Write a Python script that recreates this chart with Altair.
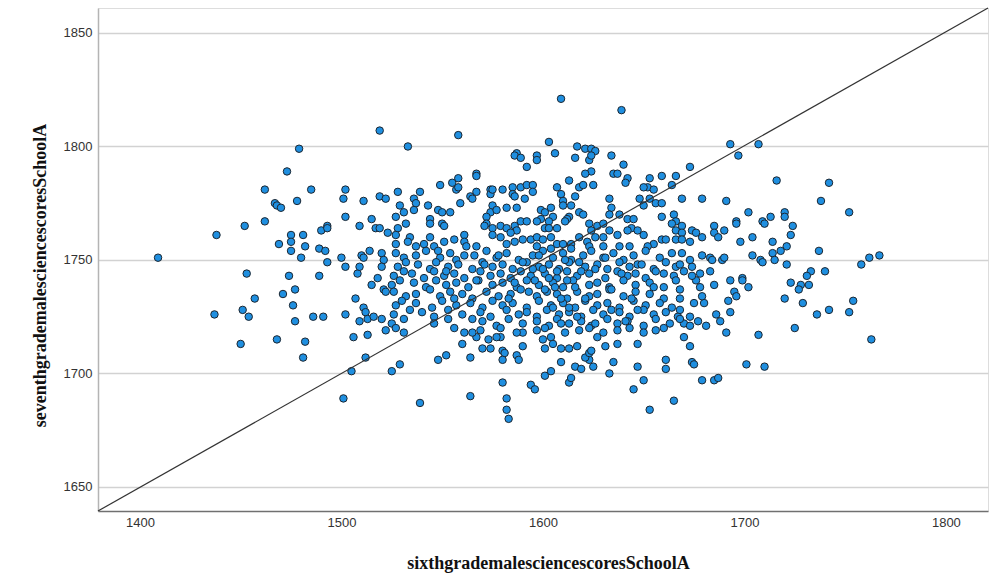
import altair as alt
import pandas as pd

# ---- data (sixth grade score, seventh grade score) ----
left_top = [[1438,1761],[1452,1765],[1462,1767],[1462,1781],[1467,1775],[1468,1774],[1470,1773],[1473,1789],
            [1479,1799],[1478,1776],[1485,1781],[1475,1761],[1475,1758],[1481,1761],[1482,1756],[1469,1757],
            [1490,1763],[1493,1765],[1493,1764],[1489,1755],[1501,1777],[1502,1781],[1502,1769],[1509,1765],
            [1511,1776],[1515,1768],[1517,1764],[1519,1764],[1519,1807],[1519,1778],[1522,1777],[1523,1762]]

left_bottom = [[1409,1751],[1437,1726],[1450,1713],[1453,1744],[1451,1728],[1454,1725],[1457,1733],[1468,1715],
               [1471,1735],[1474,1743],[1476,1730],[1477,1737],[1477,1723],[1481,1707],[1482,1714],[1486,1725],
               [1489,1743],[1491,1725],[1501,1689],[1502,1726],[1505,1701],[1506,1716],[1507,1733],[1512,1707],
               [1513,1717],[1509,1723],[1511,1729],[1512,1727],[1513,1724],[1516,1725],[1520,1724],[1522,1719],
               [1518,1742],[1515,1739],[1521,1737],[1522,1736],[1475,1754],[1480,1751],[1492,1754],[1493,1749],
               [1500,1751],[1502,1747],[1510,1752],[1511,1751],[1508,1744],[1509,1747],[1520,1753],[1521,1750],
               [1520,1747],[1514,1754]]

center_top = [[1609,1821],[1639,1816],[1558,1805],[1533,1800],[1603,1802],[1606,1797],[1587,1797],[1586,1796],
              [1589,1795],[1597,1796],[1597,1794],[1592,1791],[1617,1800],[1616,1795],[1621,1799],[1624,1799],
              [1626,1798],[1623,1794],[1624,1796],[1634,1796],[1640,1792],[1624,1789],[1621,1788],[1635,1788],
              [1637,1788],[1642,1786],[1641,1784],[1653,1786],[1659,1787],[1666,1787],[1567,1788],[1567,1787],
              [1558,1786],[1555,1784],[1557,1781],[1558,1782],[1549,1783],[1528,1780],[1539,1780],[1536,1777],
              [1537,1775],[1536,1772],[1529,1774],[1531,1771],[1527,1769],[1528,1764],[1532,1766],[1527,1761],
              [1527,1757],[1534,1760],[1533,1758],[1541,1757],[1543,1774],[1548,1772],[1550,1771],[1554,1771],
              [1544,1768],[1544,1766],[1550,1766],[1551,1765],[1544,1760],[1551,1758],[1556,1759],[1561,1761],
              [1561,1758],[1559,1775],[1564,1778],[1565,1777],[1567,1780],[1574,1781],[1574,1779],[1575,1781],
              [1580,1781],[1585,1782],[1585,1779],[1586,1778],[1589,1782],[1592,1783],[1595,1783],[1591,1777],
              [1595,1780],[1575,1774],[1574,1771],[1572,1769],[1572,1766],[1577,1772],[1582,1773],[1587,1773],
              [1571,1765],[1575,1764],[1599,1772],[1601,1771],[1604,1773],[1605,1769],[1599,1768],[1597,1767],
              [1603,1767],[1601,1764],[1603,1764],[1607,1764],[1607,1782],[1609,1779],[1610,1776],[1613,1785],
              [1616,1778],[1618,1782],[1620,1783],[1625,1783],[1614,1774],[1610,1774],[1613,1769],[1612,1768],
              [1611,1767],[1618,1771],[1620,1770],[1623,1766],[1627,1765],[1624,1763],[1630,1766],[1633,1777],
              [1634,1773],[1633,1770],[1638,1770],[1642,1768],[1645,1768],[1644,1764],[1650,1774],[1653,1777],
              [1656,1775],[1659,1775],[1659,1769],[1665,1770],[1666,1767],[1648,1777],[1652,1782],[1655,1781],
              [1650,1782],[1664,1783],[1579,1765],[1582,1764],[1586,1765],[1589,1767],[1592,1767],[1587,1763],
              [1584,1762],[1579,1760],[1575,1761],[1582,1757],[1586,1758],[1590,1759],[1594,1759],[1597,1760],
              [1600,1759],[1604,1760],[1607,1757],[1610,1757],[1614,1757],[1618,1760],[1622,1758],[1626,1760],
              [1630,1760],[1633,1763],[1637,1761],[1642,1763],[1647,1763],[1650,1761],[1655,1757],[1659,1759],
              [1661,1759],[1666,1759],[1666,1763],[1664,1766],[1623,1756],[1630,1756],[1638,1756],[1643,1756],
              [1652,1756],[1546,1756],[1537,1756],[1562,1756],[1567,1756],[1597,1756]]

center_dense = [
    [1527,1753],[1531,1751],[1537,1752],[1542,1754],[1549,1751],[1554,1753],[1557,1750],[1566,1752],[1572,1754],
    [1577,1751],[1582,1753],[1588,1750],[1595,1752],[1600,1754],[1605,1751],[1610,1753],[1614,1750],[1620,1752],
    [1624,1754],[1630,1751],[1635,1753],[1640,1750],[1645,1752],[1651,1754],[1658,1751],[1664,1753],
    [1528,1747],[1532,1749],[1538,1748],[1544,1746],[1547,1749],[1553,1747],[1558,1748],[1565,1746],[1570,1749],
    [1575,1747],[1580,1748],[1585,1746],[1592,1749],[1598,1747],[1603,1748],[1608,1746],[1613,1749],[1621,1747],
    [1627,1748],[1632,1746],[1638,1749],[1643,1747],[1647,1748],[1655,1746],[1661,1749],[1666,1747],
    [1526,1743],[1531,1745],[1535,1744],[1541,1742],[1546,1745],[1551,1743],[1556,1744],[1561,1742],[1569,1745],
    [1574,1743],[1579,1744],[1584,1742],[1589,1745],[1594,1743],[1601,1744],[1607,1742],[1612,1745],[1617,1743],
    [1623,1744],[1631,1742],[1637,1745],[1642,1743],[1646,1744],[1651,1742],[1656,1745],[1665,1743],
    [1525,1739],[1529,1741],[1536,1740],[1542,1738],[1547,1741],[1552,1739],[1557,1740],[1563,1738],[1568,1741],
    [1575,1739],[1580,1740],[1587,1738],[1592,1741],[1598,1739],[1605,1740],[1610,1738],[1615,1741],[1623,1739],
    [1627,1740],[1633,1738],[1640,1741],[1646,1739],[1653,1740],[1660,1738],[1666,1741],
    [1526,1736],[1532,1734],[1537,1735],[1544,1737],[1549,1734],[1554,1736],[1560,1735],[1565,1733],[1572,1736],
    [1578,1734],[1584,1735],[1589,1737],[1597,1734],[1602,1736],[1607,1735],[1612,1733],[1617,1736],[1623,1734],
    [1627,1735],[1633,1737],[1640,1734],[1646,1736],[1653,1735],[1660,1733],
    [1527,1730],[1530,1732],[1537,1731],[1545,1729],[1550,1732],[1557,1730],[1564,1731],[1570,1729],[1575,1732],
    [1580,1730],[1585,1731],[1592,1729],[1598,1732],[1604,1730],[1610,1731],[1616,1729],[1621,1732],[1627,1730],
    [1632,1731],[1638,1729],[1645,1732],[1651,1730],[1658,1731],[1664,1729],
    [1526,1726],[1534,1728],[1540,1727],[1546,1725],[1553,1728],[1560,1726],[1569,1727],[1574,1725],[1582,1728],
    [1588,1726],[1592,1727],[1597,1725],[1602,1728],[1608,1726],[1613,1727],[1619,1725],[1625,1728],[1630,1726],
    [1638,1727],[1643,1725],[1650,1728],[1655,1726],[1661,1727],[1667,1725],
    [1525,1722],[1531,1724],[1570,1723],[1577,1721],[1583,1724],[1590,1722],[1597,1723],[1603,1721],[1607,1724],
    [1613,1722],[1619,1723],[1624,1721],[1632,1724],[1637,1722],[1642,1723],[1650,1721],[1656,1724],[1663,1722],
    [1569,1719],[1579,1720],[1590,1718],[1601,1720],[1611,1718],[1618,1719],[1623,1720],[1630,1718],[1637,1719],
    [1643,1720],[1650,1718],[1656,1719],[1660,1720]]

center_extra = [[1600,1746],[1603,1742],[1606,1738],[1609,1733],[1613,1729],[1616,1738],[1619,1745],[1611,1750],
                [1604,1755],[1598,1752],[1614,1755],[1621,1733],[1605,1729],[1596,1741],[1593,1736],[1617,1725],
                [1609,1722],[1612,1741],[1618,1749],[1607,1745],[1601,1737],[1595,1746],[1590,1749],[1586,1740],
                [1583,1733],[1578,1752],[1571,1748],[1567,1741],[1561,1752],[1556,1733],[1552,1745],[1548,1754],
                [1626,1746],[1631,1751],[1634,1737],[1639,1744],[1644,1733],[1649,1748],[1655,1738],[1660,1744],
                [1626,1722],[1634,1728],[1641,1723],[1647,1728]]

center_low = [[1539,1687],[1564,1690],[1582,1689],[1582,1684],[1583,1680],[1580,1696],[1594,1695],[1596,1693],
              [1613,1696],[1614,1698],[1601,1699],[1604,1701],[1616,1703],[1619,1702],[1625,1703],[1633,1700],
              [1645,1693],[1650,1697],[1647,1703],[1653,1684],[1665,1688],[1661,1706],[1661,1702],[1635,1705],
              [1609,1705],[1623,1706],[1621,1707],[1623,1709],[1624,1710],[1529,1704],[1525,1701],[1548,1706],
              [1552,1708],[1564,1707],[1580,1710],[1581,1709],[1580,1706],[1587,1708],[1588,1706],[1590,1712],
              [1570,1711],[1574,1711],[1560,1713],[1567,1716],[1601,1711],[1600,1715],[1604,1716],[1605,1713],
              [1609,1711],[1613,1711],[1617,1712],[1627,1716],[1631,1712],[1637,1713],[1647,1713],[1597,1719],
              [1587,1718],[1579,1716],[1577,1716],[1573,1715],[1561,1718],[1565,1718],[1565,1724],[1556,1720],
              [1553,1724],[1546,1722],[1527,1720],[1531,1718]]

right_top = [[1673,1791],[1693,1801],[1707,1801],[1697,1796],[1716,1785],[1742,1784],[1738,1776],[1752,1771],
             [1669,1777],[1679,1777],[1691,1776],[1702,1771],[1696,1767],[1696,1766],[1709,1767],[1710,1766],
             [1713,1769],[1720,1771],[1720,1769],[1724,1765],[1723,1761],[1721,1756],[1714,1758],[1698,1758],
             [1704,1760],[1690,1763],[1685,1765],[1685,1762],[1687,1760],[1679,1760],[1674,1763],[1676,1762],
             [1669,1765],[1669,1762],[1669,1759],[1673,1758]]

right_bottom = [[1669,1753],[1679,1752],[1683,1751],[1684,1750],[1689,1750],[1690,1751],[1704,1752],[1708,1750],
                [1709,1749],[1714,1753],[1715,1750],[1718,1754],[1721,1748],[1737,1754],[1758,1748],[1762,1751],
                [1767,1752],[1740,1745],[1733,1745],[1731,1743],[1728,1739],[1732,1739],[1727,1737],[1723,1740],
                [1720,1733],[1729,1731],[1736,1726],[1742,1728],[1752,1727],[1754,1732],[1725,1720],[1763,1715],
                [1707,1717],[1701,1704],[1710,1703],[1679,1697],[1685,1697],[1687,1698],[1674,1705],[1675,1704],
                [1673,1712],[1670,1716],[1691,1718],[1686,1726],[1688,1723],[1693,1727],[1681,1721],[1677,1723],
                [1673,1725],[1670,1722],[1673,1721],[1668,1724],[1675,1731],[1680,1731],[1679,1734],[1668,1728],
                [1692,1732],[1695,1736],[1696,1734],[1685,1739],[1693,1741],[1699,1742],[1699,1741],[1702,1738],
                [1678,1738],[1676,1741],[1674,1743],[1678,1744],[1683,1745],[1670,1745],[1674,1747],[1668,1748],
                [1673,1750],[1668,1737],[1668,1733]]

x_ticks = [1400, 1500, 1600, 1700, 1800]
y_ticks = [1650, 1700, 1750, 1800, 1850]
x_domain = [1379.2, 1820.9]
y_domain = [1639.4, 1861.0]
x_title = "sixthgrademalesciencescoresSchoolA"
y_title = "seventhgrademalesciencescoresSchoolA"

points = (left_top + left_bottom + center_top + center_dense + center_extra +
          center_low + right_top + right_bottom)
df = pd.DataFrame(points, columns=["x", "y"])
ref = pd.DataFrame({"x": [x_domain[0], x_domain[1]], "y": [y_domain[0], y_domain[1]]})

xscale = alt.Scale(domain=x_domain, nice=False, zero=False)
yscale = alt.Scale(domain=y_domain, nice=False, zero=False)

xaxis = alt.Axis(values=x_ticks, format="d", grid=False, ticks=False, tickSize=0, domainColor="#707070",
                 domainWidth=1.5,
                 labelFont="Liberation Sans", labelFontSize=13, labelColor="#333333", labelPadding=5,
                 title=x_title, titleFont="Liberation Serif", titleFontSize=18, titleFontWeight="bold",
                 titleColor="#111111", titleX=450, titleY=57, titleBaseline="alphabetic", titleAlign="center")
yaxis = alt.Axis(values=y_ticks, format="d", grid=True, gridColor="#d2d2d2", gridWidth=1.5, ticks=False,
                 tickSize=0, domainColor="#b4b4b4", domainWidth=1.5,
                 labelFont="Liberation Sans", labelFontSize=13, labelColor="#333333", labelPadding=6,
                 title=y_title, titleFont="Liberation Serif", titleFontSize=18, titleFontWeight="bold",
                 titleColor="#111111", titleAngle=270, titleX=-58, titleY=267, titleAlign="center",
                 titleBaseline="middle")

pts = alt.Chart(df).mark_circle(size=56, opacity=1, color="#1f8fe0", stroke="#1c2630",
                                strokeWidth=1).encode(
    x=alt.X("x:Q", scale=xscale, axis=xaxis),
    y=alt.Y("y:Q", scale=yscale, axis=yaxis),
)
line = alt.Chart(ref).mark_line(color="#333333", strokeWidth=1.2).encode(
    x=alt.X("x:Q", scale=xscale),
    y=alt.Y("y:Q", scale=yscale),
)

chart = alt.layer(pts, line).properties(
    width=890, height=503,
    autosize=alt.AutoSizeParams(type="none"),
    padding={"left": 98, "top": 8, "right": 14, "bottom": 71},
).configure_view(stroke=None).configure(background="white")

chart.save("out.html", embed_options={"renderer": "svg", "actions": False})
